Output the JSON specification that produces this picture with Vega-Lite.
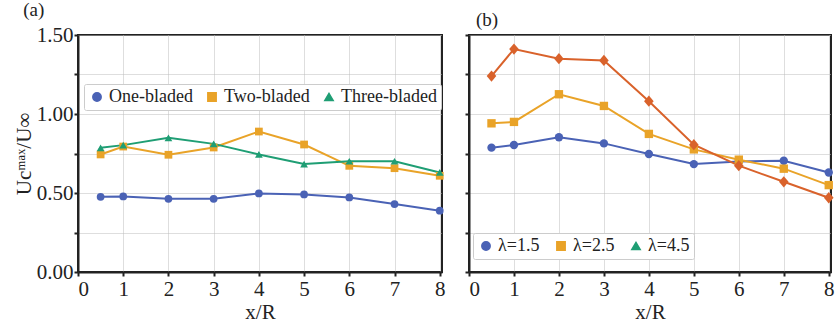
{
  "$schema": "https://vega.github.io/schema/vega-lite/v6.json",
  "padding": {"left": 12, "top": 0, "right": 0, "bottom": 0},
  "config": {
    "font": "Liberation Serif",
    "view": {"stroke": "#222", "strokeWidth": 2},
    "axis": {
      "labelFont": "Liberation Serif", "titleFont": "Liberation Serif",
      "labelFontSize": 21, "titleFontSize": 21, "labelColor": "#222", "titleColor": "#222",
      "titleFontWeight": "normal", "domainColor": "#222", "domainWidth": 2,
      "tickColor": "#222", "tickWidth": 2, "tickSize": 4,
      "gridColor": "#bdbdbd", "gridDash": [1, 1], "gridWidth": 1
    },
    "legend": {
      "labelFont": "Liberation Serif", "labelFontSize": 18, "labelColor": "#222",
      "strokeColor": "#cccccc", "fillColor": "white", "padding": 4, "cornerRadius": 2
    },
    "title": {"font": "Liberation Serif", "fontSize": 19, "fontWeight": "normal", "color": "#222", "anchor": "start"}
  },
  "datasets": {
    "a": [
      {"x": 0.5, "y": 0.476, "s": "One-bladed"}, {"x": 1, "y": 0.478, "s": "One-bladed"}, {"x": 2, "y": 0.463, "s": "One-bladed"}, {"x": 3, "y": 0.463, "s": "One-bladed"}, {"x": 4, "y": 0.497, "s": "One-bladed"}, {"x": 5, "y": 0.491, "s": "One-bladed"}, {"x": 6, "y": 0.472, "s": "One-bladed"}, {"x": 7, "y": 0.430, "s": "One-bladed"}, {"x": 8, "y": 0.388, "s": "One-bladed"},
      {"x": 0.5, "y": 0.744, "s": "Two-bladed"}, {"x": 1, "y": 0.794, "s": "Two-bladed"}, {"x": 2, "y": 0.742, "s": "Two-bladed"}, {"x": 3, "y": 0.788, "s": "Two-bladed"}, {"x": 4, "y": 0.889, "s": "Two-bladed"}, {"x": 5, "y": 0.807, "s": "Two-bladed"}, {"x": 6, "y": 0.672, "s": "Two-bladed"}, {"x": 7, "y": 0.657, "s": "Two-bladed"}, {"x": 8, "y": 0.609, "s": "Two-bladed"},
      {"x": 0.5, "y": 0.786, "s": "Three-bladed"}, {"x": 1, "y": 0.803, "s": "Three-bladed"}, {"x": 2, "y": 0.849, "s": "Three-bladed"}, {"x": 3, "y": 0.811, "s": "Three-bladed"}, {"x": 4, "y": 0.744, "s": "Three-bladed"}, {"x": 5, "y": 0.683, "s": "Three-bladed"}, {"x": 6, "y": 0.701, "s": "Three-bladed"}, {"x": 7, "y": 0.701, "s": "Three-bladed"}, {"x": 8, "y": 0.630, "s": "Three-bladed"}
    ],
    "b": [
      {"x": 0.5, "y": 0.787, "s": "λ=1.5"}, {"x": 1, "y": 0.804, "s": "λ=1.5"}, {"x": 2, "y": 0.853, "s": "λ=1.5"}, {"x": 3, "y": 0.814, "s": "λ=1.5"}, {"x": 4, "y": 0.747, "s": "λ=1.5"}, {"x": 5, "y": 0.683, "s": "λ=1.5"}, {"x": 6, "y": 0.700, "s": "λ=1.5"}, {"x": 7, "y": 0.704, "s": "λ=1.5"}, {"x": 8, "y": 0.630, "s": "λ=1.5"},
      {"x": 0.5, "y": 0.941, "s": "λ=2.5"}, {"x": 1, "y": 0.950, "s": "λ=2.5"}, {"x": 2, "y": 1.125, "s": "λ=2.5"}, {"x": 3, "y": 1.051, "s": "λ=2.5"}, {"x": 4, "y": 0.874, "s": "λ=2.5"}, {"x": 5, "y": 0.776, "s": "λ=2.5"}, {"x": 6, "y": 0.711, "s": "λ=2.5"}, {"x": 7, "y": 0.654, "s": "λ=2.5"}, {"x": 8, "y": 0.550, "s": "λ=2.5"},
      {"x": 0.5, "y": 1.240, "s": "λ=4.5 (plotted)"}, {"x": 1, "y": 1.411, "s": "λ=4.5 (plotted)"}, {"x": 2, "y": 1.350, "s": "λ=4.5 (plotted)"}, {"x": 3, "y": 1.339, "s": "λ=4.5 (plotted)"}, {"x": 4, "y": 1.081, "s": "λ=4.5 (plotted)"}, {"x": 5, "y": 0.806, "s": "λ=4.5 (plotted)"}, {"x": 6, "y": 0.673, "s": "λ=4.5 (plotted)"}, {"x": 7, "y": 0.571, "s": "λ=4.5 (plotted)"}, {"x": 8, "y": 0.470, "s": "λ=4.5 (plotted)"}
    ]
  },
  "resolve": {"scale": {"color": "independent", "shape": "independent"}, "legend": {"color": "independent", "shape": "independent"}},
  "spacing": 17,
  "hconcat": [
    {
      "width": 364, "height": 237,
      "title": {"text": "(a)", "dx": 10, "offset": 4},
      "data": {"name": "a"},
      "encoding": {
        "x": {"field": "x", "type": "quantitative", "scale": {"domain": [0, 8.05], "nice": false}, "axis": {"values": [0,1,2,3,4,5,6,7,8], "title": "x/R", "labelPadding": 2, "titlePadding": 2}},
        "y": {"field": "y", "type": "quantitative", "scale": {"domain": [0, 1.5], "nice": false}, "axis": {"values": [0, 0.25, 0.5, 0.75, 1, 1.25, 1.5], "labelExpr": "datum.value % 0.5 === 0 ? format(datum.value, '.2f') : ''", "title": "Ucᵐᵃˣ/U∞", "titlePadding": 2, "labelPadding": 1}},
        "color": {"field": "s", "type": "nominal", "scale": {"domain": ["One-bladed", "Two-bladed", "Three-bladed"], "range": ["#4a62b5", "#e9a328", "#1f9e74"]},
          "legend": {"title": null, "orient": "none", "legendX": 6, "legendY": 49, "direction": "horizontal", "columnPadding": 10, "symbolSize": 70, "labelOffset": 3}},
        "shape": {"field": "s", "type": "nominal", "scale": {"domain": ["One-bladed", "Two-bladed", "Three-bladed"], "range": ["circle", "square", "triangle-up"]}, "legend": {"title": null, "orient": "none", "legendX": 6, "legendY": 49, "direction": "horizontal", "columnPadding": 10, "symbolSize": 70, "labelOffset": 3}}
      },
      "layer": [
        {"mark": {"type": "line", "strokeWidth": 2}},
        {"mark": {"type": "point", "filled": true, "size": 60, "opacity": 1}}
      ]
    },
    {
      "width": 362, "height": 237,
      "title": {"text": "(b)", "dx": 12, "offset": 4},
      "data": {"name": "b"},
      "encoding": {
        "x": {"field": "x", "type": "quantitative", "scale": {"domain": [0, 8.05], "nice": false}, "axis": {"values": [0,1,2,3,4,5,6,7,8], "title": "x/R", "labelPadding": 2, "titlePadding": 2}},
        "y": {"field": "y", "type": "quantitative", "scale": {"domain": [0, 1.5], "nice": false}, "axis": {"values": [0, 0.25, 0.5, 0.75, 1, 1.25, 1.5], "labels": false, "title": null}},
        "color": {"field": "s", "type": "nominal", "scale": {"domain": ["λ=1.5", "λ=2.5", "λ=4.5", "λ=4.5 (plotted)"], "range": ["#4a62b5", "#e9a328", "#1f9e74", "#d9622b"]},
          "legend": {"title": null, "values": ["λ=1.5", "λ=2.5", "λ=4.5"], "orient": "none", "legendX": 4, "legendY": 198, "direction": "horizontal", "columnPadding": 12, "symbolSize": 70, "labelOffset": 3}},
        "shape": {"field": "s", "type": "nominal", "scale": {"domain": ["λ=1.5", "λ=2.5", "λ=4.5", "λ=4.5 (plotted)"], "range": ["circle", "square", "triangle-up", "M0,-1.35L1.15,0L0,1.35L-1.15,0Z"]},
          "legend": {"title": null, "values": ["λ=1.5", "λ=2.5", "λ=4.5"], "orient": "none", "legendX": 4, "legendY": 198, "direction": "horizontal", "columnPadding": 12, "symbolSize": 70, "labelOffset": 3}}
      },
      "layer": [
        {"mark": {"type": "line", "strokeWidth": 2}},
        {"mark": {"type": "point", "filled": true, "size": 70, "opacity": 1}}
      ]
    }
  ]
}
